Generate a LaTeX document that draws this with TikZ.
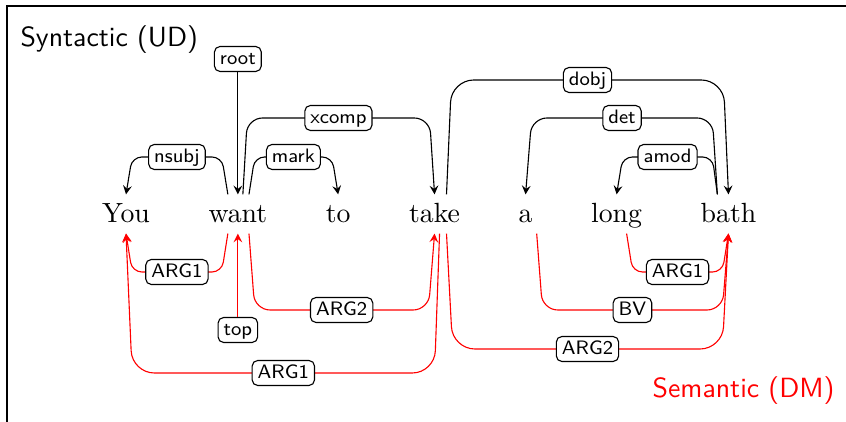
\documentclass[tikz,border=0pt]{standalone}
\usepackage{amsmath}
\usepackage{tikz}
\usetikzlibrary{positioning,arrows}
\begin{document}
\begin{tikzpicture}[x=0.36pt,y=0.36pt,>=stealth,
  word/.style={inner sep=0pt,text height=10.1pt,text depth=3.6pt},
  lbl/.style={draw=black,text=black,fill=white,rounded corners=2pt,font=\sffamily\scriptsize,
    inner xsep=2pt,inner ysep=1.2pt,text height=5.2pt,text depth=1.4pt},
  syn/.style={->,rounded corners=#1},syn/.default=3.5pt,
  sem/.style={->,red,rounded corners=#1},sem/.default=3.5pt]
\useasboundingbox (0,0) rectangle (846,422);
\draw (7,0) -- (7,416) -- (846,416);
\node[anchor=base west,inner sep=0pt,font=\sffamily] (syntitle) at (20,375) {Syntactic (UD)};
\node[anchor=base east,inner sep=0pt,font=\sffamily,text=red] (semtitle) at (835,24) {Semantic (DM)};

\node[word,anchor=base] (you) at (126,199) {You};
\node[word,base right=20.7pt of you] (want) {want};
\node[word,base right=20.7pt of want] (to) {to};
\node[word,base right=20.7pt of to] (take) {take};
\node[word,base right=20.7pt of take] (a) {a};
\node[word,base right=20.7pt of a] (long) {long};
\node[word,base right=20.7pt of long] (bath) {bath};

\node[lbl] (root) at (want.north |- 0,363) {root};
\draw[->] (root) -- (want.north);
\draw[syn] ([xshift=-3.6pt]want.north) -- ([xshift=-5.8pt]want.north |- 0,265) -- node[lbl]{nsubj} ([xshift=2.2pt]you.north |- 0,265) -- (you.north);
\draw[syn] ([xshift=4pt]want.north) -- ([xshift=6.1pt]want.north |- 0,265) -- node[lbl]{mark} ([xshift=-2.2pt]to.north |- 0,265) -- (to.north);
\draw[syn=5.5pt] ([xshift=1.8pt]want.north) -- ([xshift=3.4pt]want.north |- 0,304) -- node[lbl]{xcomp} ([xshift=-1.8pt]take.north |- 0,304) -- (take.north);
\draw[syn=8pt] ([xshift=4.3pt]take.north) -- ([xshift=6.1pt]take.north |- 0,342) -- node[lbl]{dobj} ([xshift=-1.8pt]bath.north |- 0,342) -- (bath.north);
\draw[syn=5.5pt] ([xshift=-4pt]bath.north) -- ([xshift=-5.8pt]bath.north |- 0,304) -- node[lbl]{det} ([xshift=2.2pt]a.north |- 0,304) -- (a.north);
\draw[syn] ([xshift=-4pt]bath.north) -- ([xshift=-5.8pt]bath.north |- 0,265) -- node[lbl]{amod} ([xshift=2.2pt]long.north |- 0,265) -- (long.north);

\node[lbl] (top) at (want.south |- 0,92) {top};
\draw[->,red] (top) -- (want.south);
\draw[sem] ([xshift=-3.6pt]want.south) -- ([xshift=-5.8pt]want.south |- 0,150) -- node[lbl]{ARG1} ([xshift=2.2pt]you.south |- 0,150) -- (you.south);
\draw[sem=5.5pt] ([xshift=4pt]want.south) -- ([xshift=6.1pt]want.south |- 0,112) -- node[lbl]{ARG2} ([xshift=-2.2pt]take.south |- 0,112) -- (take.south);
\draw[sem=8pt] ([xshift=1.8pt]take.south) -- ([xshift=0pt]take.south |- 0,49) -- node[lbl]{ARG1} ([xshift=2.2pt]you.south |- 0,49) -- (you.south);
\draw[sem=8pt] ([xshift=4.3pt]take.south) -- ([xshift=6.5pt]take.south |- 0,73) -- node[lbl]{ARG2} ([xshift=-2.2pt]bath.south |- 0,73) -- (bath.south);
\draw[sem=5.5pt] ([xshift=4pt]a.south) -- ([xshift=6.1pt]a.south |- 0,112) -- node[lbl]{BV} ([xshift=-2.2pt]bath.south |- 0,112) -- (bath.south);
\draw[sem] ([xshift=3.6pt]long.south) -- ([xshift=5.8pt]long.south |- 0,150) -- node[lbl]{ARG1} ([xshift=-2.2pt]bath.south |- 0,150) -- (bath.south);
\end{tikzpicture}
\end{document}
